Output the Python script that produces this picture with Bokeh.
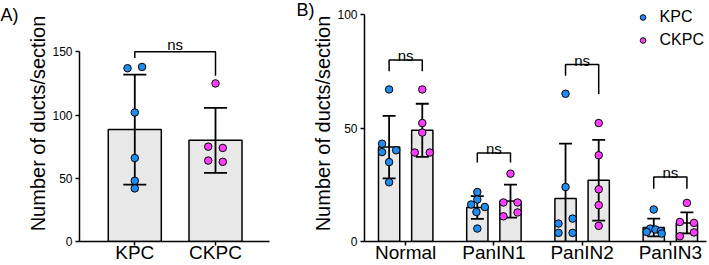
from bokeh.plotting import figure
from bokeh.layouts import row
from bokeh.models import Range1d, FixedTicker, Legend, LegendItem, Title
from bokeh.embed import file_html
from bokeh.resources import INLINE
from bokeh.core.properties import value

FONT = "Liberation Sans"
BLUE = "#1E8CF5"
PINK = "#FF3CFF"
BAR_FILL = "#E8E8E8"

# ---------------- Panel A data ----------------
a_groups = ["KPC", "CKPC"]
a_kpc = [138, 137, 102, 66, 48, 42]
a_ckpc = [125, 75, 74, 64, 63]
a_mean = [88.5, 80.0]
a_sd = [43.5, 25.7]
a_yticks = [0, 50, 100, 150]
a_sig = ["ns"]
a_bracket_top = [150]
a_bracket_left_end = [145]
a_bracket_right_end = [131]

# ---------------- Panel B data ----------------
b_groups = ["Normal", "PanIN1", "PanIN2", "PanIN3"]
b_series = ["KPC", "CKPC"]
b_kpc = [
    [67.0, 43.1, 39.4, 40.2, 35.0, 26.1],
    [21.8, 18.5, 16.3, 15.2, 13.0, 5.7],
    [65.1, 24.0, 10.1, 7.9, 3.8, 3.8],
    [14.1, 5.7, 5.3, 4.6, 4.2, 3.5],
]
b_ckpc = [
    [67.0, 52.2, 48.0, 39.2, 39.2],
    [29.9, 17.2, 17.2, 12.8, 11.1],
    [52.2, 38.0, 23.0, 16.0, 6.9],
    [17.0, 8.6, 8.2, 4.0, 2.3],
]
b_kpc_mean = [41.6, 15.0, 18.9, 6.2]
b_kpc_sd = [13.8, 5.0, 24.2, 3.9]
b_ckpc_mean = [49.0, 17.8, 27.0, 8.2]
b_ckpc_sd = [11.7, 7.3, 17.8, 4.6]
b_yticks = [0, 50, 100]
b_sig = ["ns", "ns", "ns", "ns"]
b_bracket_top = [80.0, 39.0, 78.0, 28.4]
b_bracket_left_end = [75.0, 34.8, 73.0, 23.3]
b_bracket_right_end = [75.0, 34.8, 65.0, 23.3]

# ---------------- point jitter (positions, in category units) ----------------
a_kpc_dx = [0.09, -0.09, 0, 0, 0, 0]
a_ckpc_dx = [0, -0.09, 0.09, -0.09, 0.09]
b_kpc_dx = [
    [0, -0.08, -0.08, 0.08, 0, 0],
    [0, 0, -0.07, 0.085, -0.01, 0],
    [0, 0, 0.08, -0.08, -0.08, 0.08],
    [0, -0.04, 0.02, 0.08, -0.08, 0.09],
]
b_ckpc_dx = [
    [0, 0, 0, -0.085, 0.085],
    [0, -0.08, 0.08, 0.08, -0.08],
    [0, 0, 0, 0, 0],
    [0, -0.08, 0.08, 0.08, -0.08],
]


def style(p, yticks, ylabel, xlabels):
    p.grid.visible = False
    p.outline_line_color = None
    p.background_fill_color = None
    p.border_fill_color = None
    for ax in (p.xaxis[0], p.yaxis[0]):
        ax.axis_line_color = "black"
        ax.axis_line_width = 1.5
        ax.major_tick_line_color = "black"
        ax.major_tick_line_width = 1.5
        ax.major_tick_in = 0
        ax.major_tick_out = 4
        ax.minor_tick_line_color = None
        ax.major_label_text_color = "black"
        ax.major_label_text_font = FONT
    ya = p.yaxis[0]
    ya.ticker = FixedTicker(ticks=yticks)
    ya.bounds = (yticks[0], yticks[-1])
    ya.major_label_text_font_size = "12px"
    ya.major_label_standoff = 3
    ya.axis_label = ylabel
    ya.axis_label_text_font = FONT
    ya.axis_label_text_font_size = "20px"
    ya.axis_label_text_font_style = "normal"
    ya.axis_label_text_color = "black"
    ya.axis_label_standoff = 0
    xa = p.xaxis[0]
    xa.ticker = FixedTicker(ticks=list(range(len(xlabels))))
    xa.major_label_overrides = {i: s for i, s in enumerate(xlabels)}
    xa.major_label_text_font_size = "19px"
    xa.major_label_standoff = -4


def panel_letter(p, text, dx, standoff):
    p.add_layout(Title(text=text, align="left", offset=dx, standoff=standoff,
                       vertical_align="bottom", text_font=FONT,
                       text_font_size="18px", text_font_style="normal",
                       text_color="black"), "above")


TOP = 5

# ======================= Panel A =======================
pa = figure(width=290, height=265, output_backend="svg", toolbar_location=None,
            title=None,
            x_range=Range1d(-0.685, 1.669), y_range=Range1d(0, 186.6),
            min_border_left=79, min_border_right=21, min_border_top=TOP,
            min_border_bottom=24)
style(pa, a_yticks, "Number of ducts/section", a_groups)

ax_pos = list(range(len(a_groups)))
pa.vbar(x=ax_pos, top=a_mean, width=0.657, bottom=0, fill_color=BAR_FILL,
        line_color="black", line_width=1.5)
lo = [m - s for m, s in zip(a_mean, a_sd)]
hi = [m + s for m, s in zip(a_mean, a_sd)]
pa.segment(x0=ax_pos, y0=lo, x1=ax_pos, y1=hi, line_color="black", line_width=1.8)
cw = 0.285 / 2
pa.segment(x0=[x - cw for x in ax_pos], y0=hi, x1=[x + cw for x in ax_pos], y1=hi,
           line_color="black", line_width=1.8)
pa.segment(x0=[x - cw for x in ax_pos], y0=lo, x1=[x + cw for x in ax_pos], y1=lo,
           line_color="black", line_width=1.8)
pa.scatter(x=[0 + d for d in a_kpc_dx], y=a_kpc, size=7.5, fill_color=BLUE,
           line_color="black", line_width=1)
pa.scatter(x=[1 + d for d in a_ckpc_dx], y=a_ckpc, size=7.5, fill_color=PINK,
           line_color="black", line_width=1)
pa.multi_line(xs=[[0, 0, 1, 1]], ys=[[a_bracket_left_end[0], a_bracket_top[0],
                                      a_bracket_top[0], a_bracket_right_end[0]]],
              line_color="black", line_width=1.5)
pa.text(x=[0.5], y=a_bracket_top, text=a_sig, text_font=value(FONT),
        text_font_size="15px", text_align="center", text_baseline="alphabetic",
        y_offset=-7, text_color="black")
panel_letter(pa, "A)", -79, -38)

# ======================= Panel B =======================
pb = figure(width=419, height=265, output_backend="svg", toolbar_location=None,
            title=None,
            x_range=Range1d(-0.467, 3.41), y_range=Range1d(0, 104),
            min_border_left=74, min_border_right=3, min_border_top=TOP,
            min_border_bottom=24)
style(pb, b_yticks, "Number of ducts/section", b_groups)

off = 0.188
gpos = list(range(len(b_groups)))
kx = [g - off for g in gpos]
cx = [g + off for g in gpos]
bw = 0.241
cw = 0.147 / 2
pb.vbar(x=kx, top=b_kpc_mean, width=bw, bottom=0, fill_color=BAR_FILL,
        line_color="black", line_width=1.5)
pb.vbar(x=cx, top=b_ckpc_mean, width=bw, bottom=0, fill_color=BAR_FILL,
        line_color="black", line_width=1.5)
for xs, means, sds in ((kx, b_kpc_mean, b_kpc_sd), (cx, b_ckpc_mean, b_ckpc_sd)):
    lo = [m - s for m, s in zip(means, sds)]
    hi = [m + s for m, s in zip(means, sds)]
    pb.segment(x0=xs, y0=lo, x1=xs, y1=hi, line_color="black", line_width=1.8)
    pb.segment(x0=[x - cw for x in xs], y0=hi, x1=[x + cw for x in xs], y1=hi,
               line_color="black", line_width=1.8)
    pb.segment(x0=[x - cw for x in xs], y0=lo, x1=[x + cw for x in xs], y1=lo,
               line_color="black", line_width=1.8)

kpx, kpy, cpx, cpy = [], [], [], []
for i in gpos:
    for v, d in zip(b_kpc[i], b_kpc_dx[i]):
        kpx.append(kx[i] + d)
        kpy.append(v)
    for v, d in zip(b_ckpc[i], b_ckpc_dx[i]):
        cpx.append(cx[i] + d)
        cpy.append(v)
rk = pb.scatter(x=kpx, y=kpy, size=7.5, fill_color=BLUE, line_color="black", line_width=1)
rc = pb.scatter(x=cpx, y=cpy, size=7.5, fill_color=PINK, line_color="black", line_width=1)

pb.multi_line(xs=[[kx[i], kx[i], cx[i], cx[i]] for i in gpos],
              ys=[[b_bracket_left_end[i], b_bracket_top[i], b_bracket_top[i],
                   b_bracket_right_end[i]] for i in gpos],
              line_color="black", line_width=1.5)
pb.text(x=gpos, y=b_bracket_top, text=b_sig, text_font=value(FONT),
        text_font_size="15px", text_align="center", text_baseline="alphabetic",
        y_offset=-4.5, text_color="black")

legend = Legend(items=[LegendItem(label=b_series[0], renderers=[rk]),
                       LegendItem(label=b_series[1], renderers=[rc])],
                location="top_right", margin=2, padding=0, spacing=3,
                glyph_width=14, glyph_height=20, label_height=20,
                label_standoff=10, label_text_font=FONT,
                label_text_font_size="16px", label_text_color="black",
                border_line_color=None, background_fill_alpha=0)
pb.add_layout(legend)
panel_letter(pb, "B)", -68, -28)

layout = row(pa, pb)
open("out.html", "w").write(file_html(layout, INLINE))
